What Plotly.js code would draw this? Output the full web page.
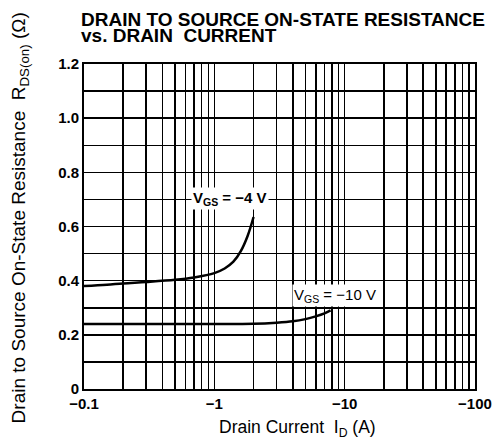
<!DOCTYPE html>
<html><head><meta charset="utf-8">
<script src="https://cdn.plot.ly/plotly-3.0.1.min.js"></script>
<style>html,body{margin:0;padding:0;background:#fff}#chart{width:495px;height:446px}</style>
</head><body><div id="chart"></div>
<script>
// Drain current magnitude (A) and RDS(on) (ohm)
const idVgs4 = [0.1, 0.15, 0.2, 0.3, 0.5, 0.7, 1.0, 1.2, 1.4, 1.6, 1.8, 2.0];
const rVgs4  = [0.38, 0.385, 0.39, 0.395, 0.403, 0.412, 0.428, 0.445, 0.47, 0.51, 0.565, 0.635];
const idVgs10 = [0.1, 0.3, 1.0, 2.0, 3.0, 4.0, 5.0, 6.0, 7.0, 7.8];
const rVgs10  = [0.24, 0.24, 0.24, 0.241, 0.245, 0.25, 0.258, 0.268, 0.279, 0.29];

const xGrid = [0.1,0.2,0.3,0.4,0.5,0.6,0.7,0.8,0.9,1,2,3,4,5,6,7,8,9,10,20,30,40,50,60,70,80,90,100];
const xLabels = {0.1:'\u22120.1', 1:'\u22121', 10:'\u221210', 100:'\u2212100'};
const yGrid = [0,0.1,0.2,0.3,0.4,0.5,0.6,0.7,0.8,0.9,1.0,1.1,1.2];
const yLabels = {0:'0', 0.2:'0.2', 0.4:'0.4', 0.6:'0.6', 0.8:'0.8', 1:'1.0', 1.2:'1.2'};

const traces = [
  {x: idVgs4, y: rVgs4, mode: 'lines', line: {color: '#000', width: 2.5, shape: 'spline'}, hoverinfo: 'skip'},
  {x: idVgs10, y: rVgs10, mode: 'lines', line: {color: '#000', width: 2.5, shape: 'spline'}, hoverinfo: 'skip'}
];

const FAM = 'Liberation Sans, Arial, sans-serif';
const tickFont = {family: FAM, size: 15, color: '#000', weight: 'bold'};

const layout = {
  width: 495, height: 446,
  margin: {l: 84, r: 20, t: 64, b: 57},
  paper_bgcolor: '#fff', plot_bgcolor: '#fff',
  showlegend: false,
  xaxis: {
    type: 'log', range: [-1, 2],
    tickmode: 'array', tickvals: xGrid,
    ticktext: xGrid.map(v => xLabels[v] || ''),
    showgrid: true, gridcolor: '#000', gridwidth: 1.5,
    showline: true, linecolor: '#000', linewidth: 2, mirror: true,
    ticks: '', zeroline: false, tickfont: tickFont
  },
  yaxis: {
    range: [0, 1.2],
    tickmode: 'array', tickvals: yGrid,
    ticktext: yGrid.map(v => yLabels[v] || ''),
    showgrid: true, gridcolor: '#000', gridwidth: 1.5,
    showline: true, linecolor: '#000', linewidth: 2, mirror: true,
    ticks: '', zeroline: false, tickfont: tickFont
  },
  annotations: [
    {xref: 'paper', yref: 'paper', x: -0.012, y: 1.137, xanchor: 'left', yanchor: 'middle', align: 'left',
     text: '<b>DRAIN TO SOURCE ON-STATE RESISTANCE</b>', showarrow: false,
     font: {family: FAM, size: 19, color: '#000'}},
    {xref: 'paper', yref: 'paper', x: -0.012, y: 1.088, xanchor: 'left', yanchor: 'middle', align: 'left',
     text: '<b>vs. DRAIN  CURRENT</b>', showarrow: false,
     font: {family: FAM, size: 19, color: '#000'}},
    {xref: 'paper', yref: 'paper', x: -0.164, y: 0.5, yshift: 9, textangle: -90, xanchor: 'center', yanchor: 'middle',
     text: 'Drain to Source On-State Resistance  R<sub>DS(on)</sub> (\u03a9)', showarrow: false,
     font: {family: FAM, size: 19, color: '#000'}},
    {xref: 'paper', yref: 'paper', x: 0.546, y: 0, yshift: -39, xanchor: 'center', yanchor: 'middle',
     text: 'Drain Current  I<sub>D</sub> (A)', showarrow: false,
     font: {family: FAM, size: 17.5, color: '#000'}},
    {x: Math.log10(1.33), y: 0.705, xref: 'x', yref: 'y', xanchor: 'center', yanchor: 'middle',
     text: '<b>V<sub>GS</sub> = \u22124 V</b>', showarrow: false, bgcolor: '#fff',
     font: {family: FAM, size: 15, color: '#000'}},
    {x: Math.log10(8.5), y: 0.347, xref: 'x', yref: 'y', xanchor: 'center', yanchor: 'middle',
     text: 'V<sub>GS</sub> = \u221210 V', showarrow: false, bgcolor: '#fff',
     font: {family: FAM, size: 15, color: '#000'}}
  ]
};

Plotly.newPlot('chart', traces, layout, {displayModeBar: false, staticPlot: true});
</script></body></html>
